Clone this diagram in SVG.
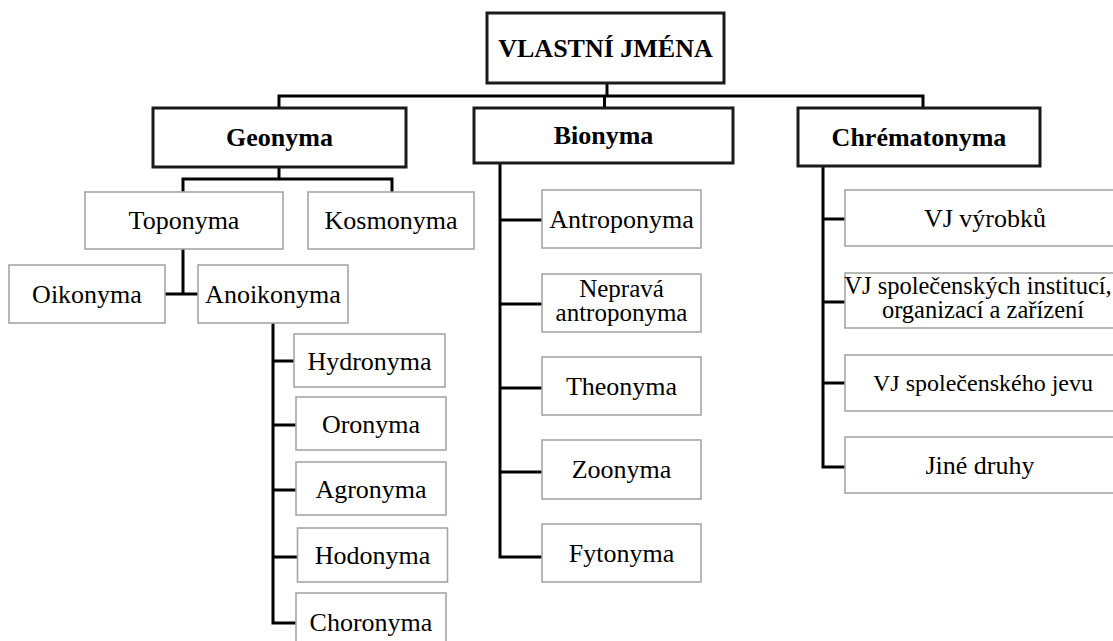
<svg xmlns="http://www.w3.org/2000/svg" width="1113" height="641" viewBox="0 0 1113 641">
<style>
.main{fill:#fff;stroke:#1a1a1a;stroke-width:3}
.sub{fill:#fff;stroke:#a6a6a6;stroke-width:1.6}
.tb{font-family:"Liberation Serif","Times New Roman",serif;font-weight:bold;font-size:26px;fill:#000;text-anchor:middle}
.t{font-family:"Liberation Serif","Times New Roman",serif;font-size:26px;fill:#000;text-anchor:middle}
.c{fill:none;stroke:#000;stroke-width:3}
</style>
<rect width="1113" height="641" fill="#fff"/>
<g id="connectors">
<path class="c" d="M607 83V96" stroke-width="4.5"/>
<path class="c" d="M279 108V96H923V108M604.5 96V108"/>
<path class="c" d="M279 167V179M183 192V179H392V192"/>
<path class="c" d="M183 249V294M165 294H198"/>
<path class="c" d="M273 323V623H297M273 361H294M273 425H296M273 490H296M273 557H297"/>
<path class="c" d="M500 163V557H542M500 220H542M500 304H542M500 388H542M500 472H542"/>
<path class="c" d="M823 166V467H845M823 219H845M823 302H845M823 383H845"/>
</g>
<g id="root"><rect class="main" x="487" y="13" width="237" height="70"/><text class="tb" x="605.5" y="57">VLASTNÍ JMÉNA</text></g>
<g id="geonyma"><rect class="main" x="153" y="108" width="253" height="59"/><text class="tb" x="279.5" y="146">Geonyma</text></g>
<g id="bionyma"><rect class="main" x="474" y="108" width="259" height="55"/><text class="tb" x="603.5" y="144">Bionyma</text></g>
<g id="chrematonyma"><rect class="main" x="798" y="108" width="242" height="58"/><text class="tb" x="919" y="146">Chrématonyma</text></g>
<g id="toponyma"><rect class="sub" x="85" y="192" width="198" height="57"/><text class="t" x="184" y="229">Toponyma</text></g>
<g id="kosmonyma"><rect class="sub" x="308" y="192" width="166" height="57"/><text class="t" x="391" y="229">Kosmonyma</text></g>
<g id="oikonyma"><rect class="sub" x="9" y="265" width="156" height="58"/><text class="t" x="87" y="303">Oikonyma</text></g>
<g id="anoikonyma"><rect class="sub" x="198" y="265" width="150" height="58"/><text class="t" x="273" y="303">Anoikonyma</text></g>
<g id="hydronyma"><rect class="sub" x="294" y="334" width="151" height="53"/><text class="t" x="369.5" y="370">Hydronyma</text></g>
<g id="oronyma"><rect class="sub" x="296" y="397" width="150" height="53"/><text class="t" x="371" y="433">Oronyma</text></g>
<g id="agronyma"><rect class="sub" x="296" y="462" width="150" height="53"/><text class="t" x="371" y="498">Agronyma</text></g>
<g id="hodonyma"><rect class="sub" x="297.5" y="528" width="150" height="54"/><text class="t" x="372.5" y="564">Hodonyma</text></g>
<g id="choronyma"><rect class="sub" x="296" y="593" width="150" height="60"/><text class="t" x="371" y="631">Choronyma</text></g>
<g id="antroponyma"><rect class="sub" x="542" y="190" width="159" height="58"/><text class="t" x="621.5" y="228">Antroponyma</text></g>
<g id="neprava"><rect class="sub" x="542" y="274" width="159" height="58"/><text class="t" style="font-size:25px" x="621.5" y="297"><tspan x="621.5">Nepravá</tspan><tspan x="621.5" dy="24">antroponyma</tspan></text></g>
<g id="theonyma"><rect class="sub" x="542" y="357" width="159" height="58"/><text class="t" x="621.5" y="395">Theonyma</text></g>
<g id="zoonyma"><rect class="sub" x="542" y="440" width="159" height="59"/><text class="t" x="621.5" y="478">Zoonyma</text></g>
<g id="fytonyma"><rect class="sub" x="542" y="524" width="159" height="58"/><text class="t" x="621.5" y="562">Fytonyma</text></g>
<g id="vj-vyrobku"><rect class="sub" x="845" y="190" width="280" height="56"/><text class="t" x="985" y="227">VJ výrobků</text></g>
<g id="vj-instituci"><rect class="sub" x="845" y="273" width="280" height="55"/><text class="t" style="font-size:24.5px" y="294"><tspan x="978">VJ společenských institucí,</tspan><tspan x="983" dy="24">organizací a zařízení</tspan></text></g>
<g id="vj-jevu"><rect class="sub" x="845" y="355" width="280" height="56"/><text class="t" style="font-size:24px" x="983" y="391">VJ společenského jevu</text></g>
<g id="jine-druhy"><rect class="sub" x="845" y="437" width="280" height="56"/><text class="t" x="980" y="474">Jiné druhy</text></g>
</svg>
